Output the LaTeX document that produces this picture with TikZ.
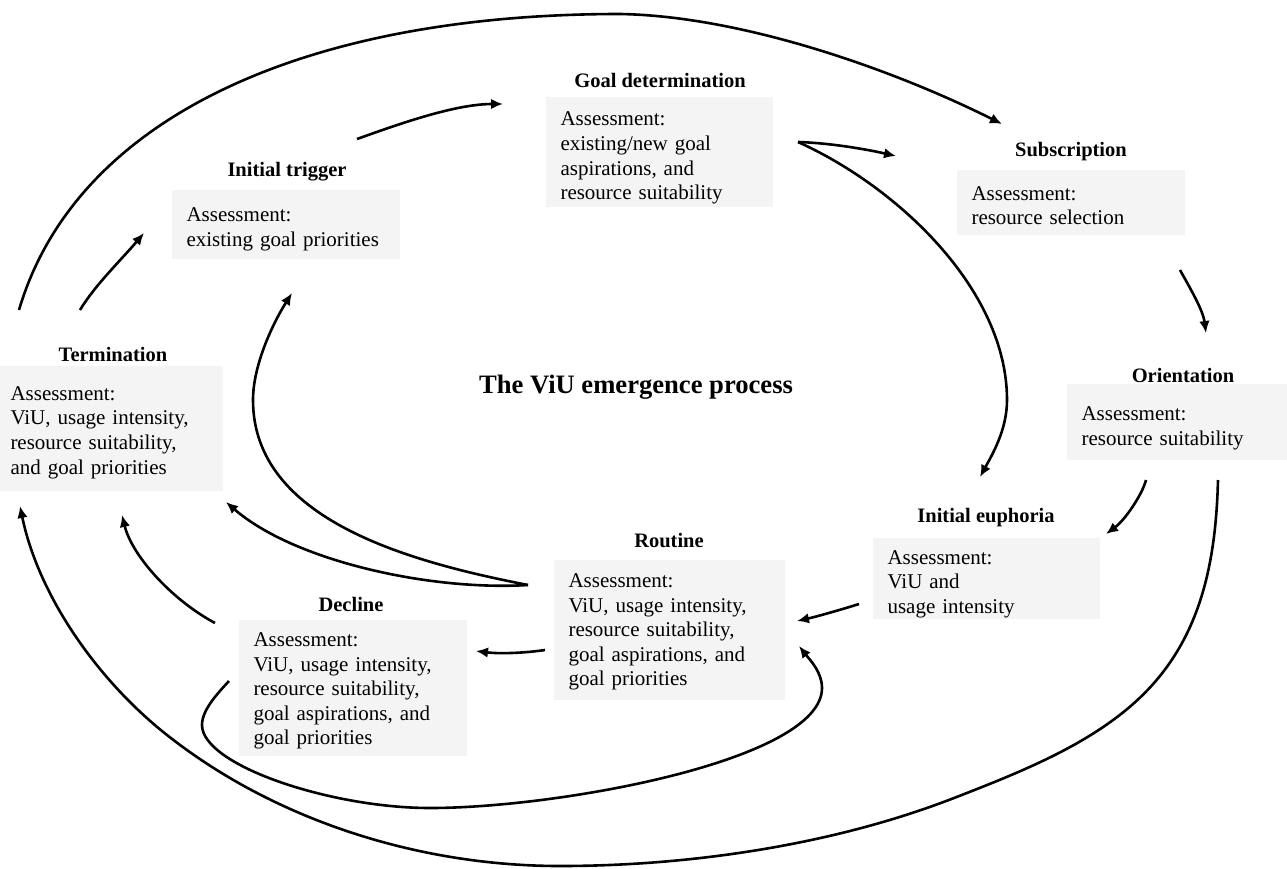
\documentclass[tikz,border=0pt]{standalone}
\usepackage{fontspec}
\setmainfont{Liberation Serif}
\usetikzlibrary{arrows.meta}
\definecolor{boxgray}{RGB}{244,244,244}
\newcommand{\firstline}[1]{\rule{0pt}{#1pt}}
\begin{document}
\begin{tikzpicture}[x=1pt,y=-1pt,
  box/.style={fill=boxgray, inner xsep=14.5pt, inner ysep=0pt, align=left,
    font=\fontsize{21}{24.6}\selectfont, anchor=center},
  ttl/.style={font=\fontsize{20.5}{24}\selectfont\bfseries, inner sep=0pt},
  arr/.style={line width=2.6pt, -{Latex[length=12pt,width=10.5pt]}}]
\useasboundingbox (0,0) rectangle (1287,868);

% boxes
\node[box, minimum width=227pt, minimum height=110pt, text width=198pt] (goal) at (659.5,152)
  {\firstline{26}Assessment:\\existing/new goal\\aspirations, and\\resource suitability};
\node[box, minimum width=228pt, minimum height=65pt, text width=199pt] (subs) at (1071,202.5)
  {\firstline{20}Assessment:\\resource selection};
\node[box, minimum width=228pt, minimum height=69pt, text width=199pt] (trig) at (286,224.5)
  {\firstline{24}Assessment:\\existing goal priorities};
\node[box, minimum width=227pt, minimum height=125pt, text width=198pt] (term) at (109.5,428.5)
  {\firstline{22}Assessment:\\ViU, usage intensity,\\resource suitability,\\and goal priorities};
\node[box, minimum width=228pt, minimum height=76pt, text width=199pt] (orient) at (1181,422)
  {\firstline{26}Assessment:\\resource suitability};
\node[box, minimum width=227pt, minimum height=81pt, text width=198pt] (euph) at (986.5,578)
  {\firstline{26}Assessment:\\ViU and\\usage intensity};
\node[box, minimum width=231pt, minimum height=140pt, text width=202pt] (rout) at (669.5,630)
  {\firstline{18}Assessment:\\ViU, usage intensity,\\resource suitability,\\goal aspirations, and\\goal priorities};
\node[box, minimum width=228pt, minimum height=136pt, text width=199pt] (decl) at (353,688)
  {\firstline{20}Assessment:\\ViU, usage intensity,\\resource suitability,\\goal aspirations, and\\goal priorities};

% titles
\node[ttl] (goalT) at (660,80) {Goal determination};
\node[ttl] (subsT) at (1071,152) {Subscription};
\node[ttl] (trigT) at (287,172) {Initial trigger};
\node[ttl] (termT) at (113,354) {Termination};
\node[ttl] (orientT) at (1183,375) {Orientation};
\node[ttl] (euphT) at (986,518) {Initial euphoria};
\node[ttl] (routT) at (669,541) {Routine};
\node[ttl] (declT) at (351,604) {Decline};
\node[font=\fontsize{26.6}{30}\selectfont\bfseries, inner sep=0pt] (main) at (636,387) {The ViU emergence process};

% connector end points
\coordinate (termTop1) at (19,310);
\coordinate (subsIn1) at (1002,124);
\coordinate (trigOut) at (357,139);
\coordinate (goalIn) at (503,104);
\coordinate (termTop2) at (80,310);
\coordinate (trigIn1) at (144,233);
\coordinate (goalOut) at (798,142);
\coordinate (subsIn2) at (896,156);
\coordinate (euphIn1) at (980,477);
\coordinate (subsOut) at (1180,270);
\coordinate (orientIn) at (1206,333);
\coordinate (orientOut1) at (1146,480);
\coordinate (euphIn2) at (1106,534);
\coordinate (orientOut2) at (1218,480);
\coordinate (termIn1) at (20,506);
\coordinate (euphOut) at (859,604);
\coordinate (routIn1) at (797,621);
\coordinate (routOut1) at (545,650);
\coordinate (declIn) at (476,651);
\coordinate (routOut2) at (528,585);
\coordinate (trigIn2) at (292,293);
\coordinate (termIn2) at (226,502);
\coordinate (declOut1) at (215,623);
\coordinate (termIn3) at (122,515);
\coordinate (declOut2) at (229,681);
\coordinate (routIn2) at (799,646);

% connectors
\draw[arr] (termTop1) .. controls (75,120) and (300,14) .. (620,14)
  .. controls (740,16) and (890,68) .. (subsIn1);
\draw[arr] (trigOut) .. controls (399,124) and (455,104) .. (goalIn);
\draw[arr] (termTop2) .. controls (95,285) and (122,259) .. (trigIn1);
\draw[arr] (goalOut) .. controls (830,143) and (865,149) .. (subsIn2);
\draw[arr] (goalOut) .. controls (898,187) and (1007,290) .. (1007,400)
  .. controls (1007,430) and (992,455) .. (euphIn1);
\draw[arr] (subsOut) .. controls (1190,288) and (1203,310) .. (orientIn);
\draw[arr] (orientOut1) .. controls (1142,495) and (1125,520) .. (euphIn2);
\draw[arr] (orientOut2) .. controls (1216,555) and (1203.5,626.75) .. (1154,683)
  .. controls (1105,739) and (1026,770) .. (954,798)
  .. controls (833,845) and (690,866) .. (560,866)
  .. controls (420,866) and (276,821) .. (167,735)
  .. controls (96,679) and (38,594) .. (termIn1);
\draw[arr] (euphOut) .. controls (840,610) and (815,617) .. (routIn1);
\draw[arr] (routOut1) .. controls (525,653) and (500,654) .. (declIn);
\draw[arr] (routOut2) .. controls (410,562) and (253,520) .. (253,400)
  .. controls (253,365) and (273,323) .. (trigIn2);
\draw[arr] (routOut2) .. controls (430,591) and (294,561) .. (termIn2);
\draw[arr] (declOut1) .. controls (172,600) and (132,556) .. (termIn3);
\draw[arr] (declOut2) .. controls (217,694) and (202,710) .. (202,725)
  .. controls (202,765) and (330,808) .. (430,808)
  .. controls (560,808) and (822,760) .. (822,688)
  .. controls (822,672) and (810,660) .. (routIn2);
\end{tikzpicture}
\end{document}
